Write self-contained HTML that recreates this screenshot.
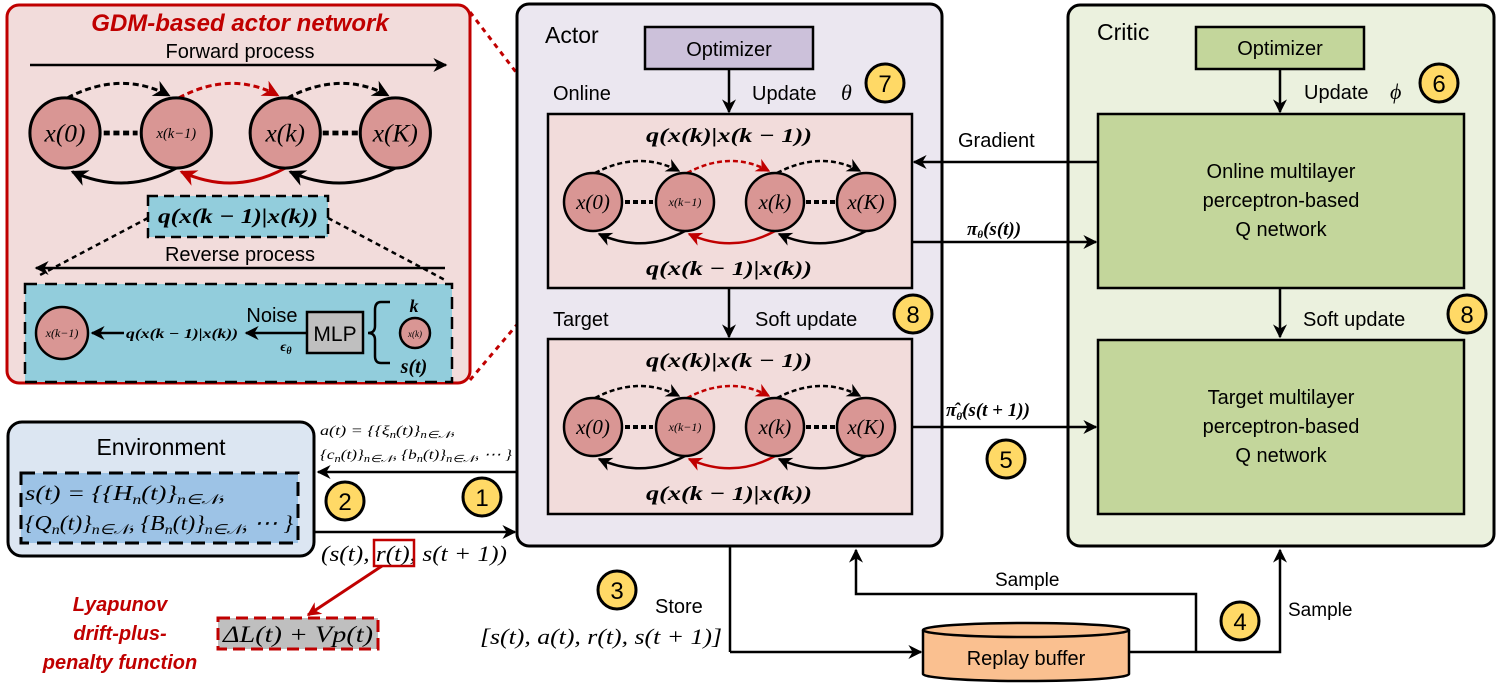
<!DOCTYPE html>
<html><head><meta charset="utf-8"><style>
html,body{margin:0;padding:0;background:#fff}
svg{display:block}
.s{font-family:"Liberation Sans",sans-serif}
.m{font-family:"Liberation Serif",serif;font-style:italic}
</style></head><body>
<svg width="1496" height="684" viewBox="0 0 1496 684" xmlns="http://www.w3.org/2000/svg">
<defs>
<marker id="ab" viewBox="0 0 10 10" refX="9" refY="5" markerWidth="5" markerHeight="5" orient="auto" markerUnits="userSpaceOnUse" style="overflow:visible"><path d="M0,0 L10,5 L0,10 L3,5 z" fill="#000" transform="translate(9,5) scale(2.8) translate(-9,-5)"/></marker>
<marker id="ar" viewBox="0 0 10 10" refX="9" refY="5" markerWidth="5" markerHeight="5" orient="auto" markerUnits="userSpaceOnUse" style="overflow:visible"><path d="M0,0 L10,5 L0,10 L3,5 z" fill="#c00000" transform="translate(9,5) scale(2.8) translate(-9,-5)"/></marker>
</defs>

<rect x="7" y="5" width="463" height="378" rx="12" fill="#f2dcdb" stroke="#c00000" stroke-width="3"/>
<text x="240" y="31" text-anchor="middle" class="s" font-size="24" font-weight="bold" font-style="italic" fill="#c00000">GDM-based actor network</text>
<text x="240" y="58" text-anchor="middle" class="s" font-size="20">Forward process</text>
<line x1="30" y1="65" x2="446" y2="65" stroke="#000" stroke-width="2.5" marker-end="url(#ab)"/>

<g transform="translate(65,133) scale(1.21)">
 <g fill="none" stroke-width="2.5">
  <path d="M2,-29 Q46,-52 86,-31" stroke="#000" stroke-dasharray="5,3" marker-end="url(#ab)"/>
  <path d="M94,-29 Q137,-52 176,-31" stroke="#c00000" stroke-dasharray="5,3" marker-end="url(#ar)"/>
  <path d="M184,-29 Q228,-52 267,-31" stroke="#000" stroke-dasharray="5,3" marker-end="url(#ab)"/>
  <path d="M92,29 Q50,52 6,32" stroke="#000" marker-end="url(#ab)"/>
  <path d="M182,29 Q140,52 96,32" stroke="#c00000" marker-end="url(#ar)"/>
  <path d="M273,29 Q230,52 186,32" stroke="#000" marker-end="url(#ab)"/>
  <line x1="32" y1="0" x2="60" y2="0" stroke="#000" stroke-width="4" stroke-dasharray="5,3"/>
  <line x1="213" y1="0" x2="242" y2="0" stroke="#000" stroke-width="4" stroke-dasharray="5,3"/>
 </g>
 <g fill="#d99694" stroke="#000" stroke-width="2.5">
  <circle cx="0" cy="0" r="29"/><circle cx="92" cy="0" r="29"/><circle cx="182" cy="0" r="29"/><circle cx="273" cy="0" r="29"/>
 </g>
 <g class="m" text-anchor="middle">
  <text x="0" y="7" font-size="21">x(0)</text>
  <text x="92" y="4" font-size="12">x(k−1)</text>
  <text x="182" y="7" font-size="21">x(k)</text>
  <text x="273" y="7" font-size="21">x(K)</text>
 </g>
</g>

<rect x="148" y="196" width="180" height="41" fill="#92cddc" stroke="#000" stroke-width="2.5" stroke-dasharray="10,6"/>
<text x="238" y="223" text-anchor="middle" class="m" font-size="21" font-weight="bold" textLength="160" lengthAdjust="spacingAndGlyphs">q(x(k − 1)|x(k))</text>
<line x1="148" y1="218" x2="40" y2="275" stroke="#000" stroke-width="2.5" stroke-dasharray="5,4"/>
<line x1="328" y1="218" x2="445" y2="280" stroke="#000" stroke-width="2.5" stroke-dasharray="5,4"/>
<text x="240" y="261" text-anchor="middle" class="s" font-size="20">Reverse process</text>
<line x1="445" y1="268" x2="36" y2="268" stroke="#000" stroke-width="2.5" marker-end="url(#ab)"/>
<rect x="25" y="284" width="427" height="98" fill="#92cddc" stroke="#000" stroke-width="2.5" stroke-dasharray="12,8"/>
<circle cx="62" cy="333" r="26" fill="#d99694" stroke="#000" stroke-width="2.5"/>
<text x="62" y="337" text-anchor="middle" class="m" font-size="12">x(k−1)</text>
<line x1="124" y1="333" x2="92" y2="333" stroke="#000" stroke-width="2.5" marker-end="url(#ab)"/>
<text x="182" y="338" text-anchor="middle" class="m" font-size="14" font-weight="bold" textLength="112" lengthAdjust="spacingAndGlyphs">q(x(k − 1)|x(k))</text>
<line x1="307" y1="333" x2="246" y2="333" stroke="#000" stroke-width="2.5" marker-end="url(#ab)"/>
<text x="272" y="322" text-anchor="middle" class="s" font-size="20">Noise</text>
<text x="286" y="351" text-anchor="middle" class="m" font-size="14" font-weight="bold">ϵ<tspan font-size="10" dy="3">θ</tspan></text>
<rect x="307" y="312" width="56" height="41" fill="#bfbfbf" stroke="#000" stroke-width="2.5"/>
<text x="335" y="341" text-anchor="middle" class="s" font-size="21">MLP</text>
<path d="M390,302 L381,302 Q375,302 375,310 L375,326 Q375,333 368,333 Q375,333 375,340 L375,356 Q375,363 381,363 L390,363" fill="none" stroke="#000" stroke-width="2.5"/>
<text x="414" y="312" text-anchor="middle" class="m" font-size="18" font-weight="bold">k</text>
<circle cx="415" cy="333" r="15" fill="#d99694" stroke="#000" stroke-width="2.5"/>
<text x="415" y="337" text-anchor="middle" class="m" font-size="9">x(k)</text>
<text x="414" y="373" text-anchor="middle" class="m" font-size="20" font-weight="bold">s(t)</text>

<line x1="470" y1="12" x2="548" y2="114" stroke="#c00000" stroke-width="3" stroke-dasharray="5,5"/>
<line x1="470" y1="380" x2="548" y2="288" stroke="#c00000" stroke-width="3" stroke-dasharray="5,5"/>

<rect x="517" y="4" width="425" height="542" rx="12" fill="#ebe7f0" stroke="#000" stroke-width="3"/>
<text x="545" y="43" class="s" font-size="23">Actor</text>
<rect x="645" y="27" width="168" height="42" fill="#ccc1da" stroke="#000" stroke-width="2.5"/>
<text x="729" y="56" text-anchor="middle" class="s" font-size="20">Optimizer</text>
<line x1="729" y1="69" x2="729" y2="112" stroke="#000" stroke-width="2.5" marker-end="url(#ab)"/>
<text x="553" y="100" class="s" font-size="20">Online</text>
<text x="752" y="100" class="s" font-size="20">Update</text>
<text x="841" y="100" class="m" font-size="22">θ</text>
<rect x="548" y="114" width="364" height="174" fill="#f2dcdb" stroke="#000" stroke-width="2.5"/>
<text x="729" y="142" text-anchor="middle" class="m" font-size="20" font-weight="bold" textLength="166" lengthAdjust="spacingAndGlyphs">q(x(k)|x(k − 1))</text>
<text x="729" y="275" text-anchor="middle" class="m" font-size="20" font-weight="bold" textLength="166" lengthAdjust="spacingAndGlyphs">q(x(k − 1)|x(k))</text>
<line x1="729" y1="288" x2="729" y2="337" stroke="#000" stroke-width="2.5" marker-end="url(#ab)"/>
<text x="553" y="326" class="s" font-size="20">Target</text>
<text x="755" y="326" class="s" font-size="20">Soft update</text>
<rect x="548" y="339" width="364" height="175" fill="#f2dcdb" stroke="#000" stroke-width="2.5"/>
<text x="729" y="367" text-anchor="middle" class="m" font-size="20" font-weight="bold" textLength="166" lengthAdjust="spacingAndGlyphs">q(x(k)|x(k − 1))</text>
<text x="729" y="500" text-anchor="middle" class="m" font-size="20" font-weight="bold" textLength="166" lengthAdjust="spacingAndGlyphs">q(x(k − 1)|x(k))</text>

<g transform="translate(593,202)">
 <g fill="none" stroke-width="2.5">
  <path d="M2,-29 Q46,-52 86,-31" stroke="#000" stroke-dasharray="5,3" marker-end="url(#ab)"/>
  <path d="M94,-29 Q137,-52 176,-31" stroke="#c00000" stroke-dasharray="5,3" marker-end="url(#ar)"/>
  <path d="M184,-29 Q228,-52 267,-31" stroke="#000" stroke-dasharray="5,3" marker-end="url(#ab)"/>
  <path d="M92,29 Q50,52 6,32" stroke="#000" marker-end="url(#ab)"/>
  <path d="M182,29 Q140,52 96,32" stroke="#c00000" marker-end="url(#ar)"/>
  <path d="M273,29 Q230,52 186,32" stroke="#000" marker-end="url(#ab)"/>
  <line x1="32" y1="0" x2="60" y2="0" stroke="#000" stroke-width="4" stroke-dasharray="5,3"/>
  <line x1="213" y1="0" x2="242" y2="0" stroke="#000" stroke-width="4" stroke-dasharray="5,3"/>
 </g>
 <g fill="#d99694" stroke="#000" stroke-width="2.5">
  <circle cx="0" cy="0" r="29"/><circle cx="92" cy="0" r="29"/><circle cx="182" cy="0" r="29"/><circle cx="273" cy="0" r="29"/>
 </g>
 <g class="m" text-anchor="middle">
  <text x="0" y="7" font-size="21">x(0)</text>
  <text x="92" y="4" font-size="12">x(k−1)</text>
  <text x="182" y="7" font-size="21">x(k)</text>
  <text x="273" y="7" font-size="21">x(K)</text>
 </g>
</g>
<g transform="translate(593,427)">
 <g fill="none" stroke-width="2.5">
  <path d="M2,-29 Q46,-52 86,-31" stroke="#000" stroke-dasharray="5,3" marker-end="url(#ab)"/>
  <path d="M94,-29 Q137,-52 176,-31" stroke="#c00000" stroke-dasharray="5,3" marker-end="url(#ar)"/>
  <path d="M184,-29 Q228,-52 267,-31" stroke="#000" stroke-dasharray="5,3" marker-end="url(#ab)"/>
  <path d="M92,29 Q50,52 6,32" stroke="#000" marker-end="url(#ab)"/>
  <path d="M182,29 Q140,52 96,32" stroke="#c00000" marker-end="url(#ar)"/>
  <path d="M273,29 Q230,52 186,32" stroke="#000" marker-end="url(#ab)"/>
  <line x1="32" y1="0" x2="60" y2="0" stroke="#000" stroke-width="4" stroke-dasharray="5,3"/>
  <line x1="213" y1="0" x2="242" y2="0" stroke="#000" stroke-width="4" stroke-dasharray="5,3"/>
 </g>
 <g fill="#d99694" stroke="#000" stroke-width="2.5">
  <circle cx="0" cy="0" r="29"/><circle cx="92" cy="0" r="29"/><circle cx="182" cy="0" r="29"/><circle cx="273" cy="0" r="29"/>
 </g>
 <g class="m" text-anchor="middle">
  <text x="0" y="7" font-size="21">x(0)</text>
  <text x="92" y="4" font-size="12">x(k−1)</text>
  <text x="182" y="7" font-size="21">x(k)</text>
  <text x="273" y="7" font-size="21">x(K)</text>
 </g>
</g>

<rect x="1068" y="5" width="426" height="541" rx="12" fill="#ebf1de" stroke="#000" stroke-width="3"/>
<text x="1097" y="40" class="s" font-size="23">Critic</text>
<rect x="1196" y="27" width="168" height="42" fill="#c3d69b" stroke="#000" stroke-width="2.5"/>
<text x="1280" y="55" text-anchor="middle" class="s" font-size="20">Optimizer</text>
<line x1="1280" y1="69" x2="1280" y2="112" stroke="#000" stroke-width="2.5" marker-end="url(#ab)"/>
<text x="1304" y="99" class="s" font-size="20">Update</text>
<text x="1390" y="99" class="m" font-size="22">ϕ</text>
<rect x="1098" y="114" width="366" height="174" fill="#c3d69b" stroke="#000" stroke-width="2.5"/>
<text x="1281" y="178" text-anchor="middle" class="s" font-size="20">Online multilayer</text>
<text x="1281" y="207" text-anchor="middle" class="s" font-size="20">perceptron-based</text>
<text x="1281" y="236" text-anchor="middle" class="s" font-size="20">Q network</text>
<line x1="1280" y1="288" x2="1280" y2="337" stroke="#000" stroke-width="2.5" marker-end="url(#ab)"/>
<text x="1303" y="326" class="s" font-size="20">Soft update</text>
<rect x="1098" y="340" width="366" height="174" fill="#c3d69b" stroke="#000" stroke-width="2.5"/>
<text x="1281" y="404" text-anchor="middle" class="s" font-size="20">Target multilayer</text>
<text x="1281" y="433" text-anchor="middle" class="s" font-size="20">perceptron-based</text>
<text x="1281" y="462" text-anchor="middle" class="s" font-size="20">Q network</text>

<line x1="1098" y1="162" x2="914" y2="162" stroke="#000" stroke-width="2.5" marker-end="url(#ab)"/>
<text x="958" y="147" class="s" font-size="20">Gradient</text>
<line x1="912" y1="242" x2="1096" y2="242" stroke="#000" stroke-width="2.5" marker-end="url(#ab)"/>
<text x="967" y="235" class="m" font-size="19" font-weight="bold">π<tspan font-size="11" dy="3">θ</tspan><tspan dy="-3">(s(t))</tspan></text>
<line x1="912" y1="427" x2="1096" y2="427" stroke="#000" stroke-width="2.5" marker-end="url(#ab)"/>
<text x="946" y="416" class="m" font-size="19" font-weight="bold">π̂<tspan font-size="11" dy="4">θ̂</tspan><tspan dy="-4">(s(t + 1))</tspan></text>

<rect x="8" y="422" width="306" height="134" rx="14" fill="#dce6f2" stroke="#000" stroke-width="3"/>
<text x="161" y="455" text-anchor="middle" class="s" font-size="23">Environment</text>
<rect x="21" y="473" width="277" height="70" fill="#9dc3e6" stroke="#000" stroke-width="3" stroke-dasharray="14,8"/>
<text x="25" y="500" class="m" font-size="21" textLength="200" lengthAdjust="spacingAndGlyphs">s(t) = {{H<tspan font-size="14" dy="4">n</tspan><tspan dy="-4">(t)}</tspan><tspan font-size="14" dy="4">n∈𝒩</tspan><tspan dy="-4">,</tspan></text>
<text x="25" y="530" class="m" font-size="21" textLength="268" lengthAdjust="spacingAndGlyphs">{Q<tspan font-size="14" dy="4">n</tspan><tspan dy="-4">(t)}</tspan><tspan font-size="14" dy="4">n∈𝒩</tspan><tspan dy="-4">, {B</tspan><tspan font-size="14" dy="4">n</tspan><tspan dy="-4">(t)}</tspan><tspan font-size="14" dy="4">n∈𝒩</tspan><tspan dy="-4">, ⋯ }</tspan></text>
<line x1="517" y1="472" x2="318" y2="472" stroke="#000" stroke-width="2.5" marker-end="url(#ab)"/>
<line x1="314" y1="532" x2="515" y2="532" stroke="#000" stroke-width="2.5" marker-end="url(#ab)"/>
<text x="320" y="435" class="m" font-size="14" textLength="135" lengthAdjust="spacingAndGlyphs">a(t) = {{ξ<tspan font-size="10" dy="3">n</tspan><tspan dy="-3">(t)}</tspan><tspan font-size="10" dy="3">n∈𝒩</tspan><tspan dy="-3">,</tspan></text>
<text x="320" y="459" class="m" font-size="14" textLength="192" lengthAdjust="spacingAndGlyphs">{c<tspan font-size="10" dy="3">n</tspan><tspan dy="-3">(t)}</tspan><tspan font-size="10" dy="3">n∈𝒩</tspan><tspan dy="-3">, {b</tspan><tspan font-size="10" dy="3">n</tspan><tspan dy="-3">(t)}</tspan><tspan font-size="10" dy="3">n∈𝒩</tspan><tspan dy="-3">, ⋯ }</tspan></text>
<text x="321" y="561" class="m" font-size="22" textLength="186" lengthAdjust="spacingAndGlyphs">(s(t), r(t), s(t + 1))</text>
<rect x="374" y="540" width="40" height="26" fill="none" stroke="#c00000" stroke-width="2.5"/>
<line x1="382" y1="566" x2="308" y2="615" stroke="#c00000" stroke-width="3" marker-end="url(#ar)"/>
<rect x="218" y="618" width="160" height="31" fill="#bfbfbf" stroke="#c00000" stroke-width="3" stroke-dasharray="12,6"/>
<text x="298" y="642" text-anchor="middle" class="m" font-size="23" textLength="150" lengthAdjust="spacingAndGlyphs">ΔL(t) + Vp(t)</text>
<g class="s" font-size="20" font-weight="bold" font-style="italic" fill="#c00000" text-anchor="middle">
<text x="120" y="611">Lyapunov</text><text x="120" y="640">drift-plus-</text><text x="120" y="669">penalty function</text>
</g>

<line x1="730" y1="546" x2="730" y2="652" stroke="#000" stroke-width="2.5"/>
<line x1="730" y1="652" x2="921" y2="652" stroke="#000" stroke-width="2.5" marker-end="url(#ab)"/>
<text x="655" y="613" class="s" font-size="20">Store</text>
<text x="480" y="644" class="m" font-size="22" textLength="242" lengthAdjust="spacingAndGlyphs">[s(t), a(t), r(t), s(t + 1)]</text>
<path d="M923,630 L923,674 A103,7 0 0 0 1129,674 L1129,630" fill="#fac090" stroke="#000" stroke-width="2.5"/>
<ellipse cx="1026" cy="630" rx="103" ry="7" fill="#fac090" stroke="#000" stroke-width="2.5"/>
<text x="1026" y="665" text-anchor="middle" class="s" font-size="20">Replay buffer</text>
<polyline points="1129,652 1280,652 1280,550" fill="none" stroke="#000" stroke-width="2.5" marker-end="url(#ab)"/>
<polyline points="1196,652 1196,594 856,594 856,550" fill="none" stroke="#000" stroke-width="2.5" marker-end="url(#ab)"/>
<text x="995" y="586" class="s" font-size="19">Sample</text>
<text x="1288" y="616" class="s" font-size="19">Sample</text>

<g fill="#ffd966" stroke="#000" stroke-width="3">
<circle cx="482" cy="497" r="19"/><circle cx="345" cy="501" r="19"/><circle cx="617" cy="590" r="19"/>
<circle cx="1240" cy="621" r="19"/><circle cx="1006" cy="459" r="19"/><circle cx="1439" cy="83" r="19"/>
<circle cx="885" cy="83" r="19"/><circle cx="913" cy="314" r="19"/><circle cx="1467" cy="314" r="19"/>
</g>
<g class="s" font-size="24" text-anchor="middle">
<text x="482" y="506">1</text><text x="345" y="510">2</text><text x="617" y="599">3</text>
<text x="1240" y="630">4</text><text x="1006" y="468">5</text><text x="1439" y="92">6</text>
<text x="885" y="92">7</text><text x="913" y="323">8</text><text x="1467" y="323">8</text>
</g>
</svg>
</body></html>
